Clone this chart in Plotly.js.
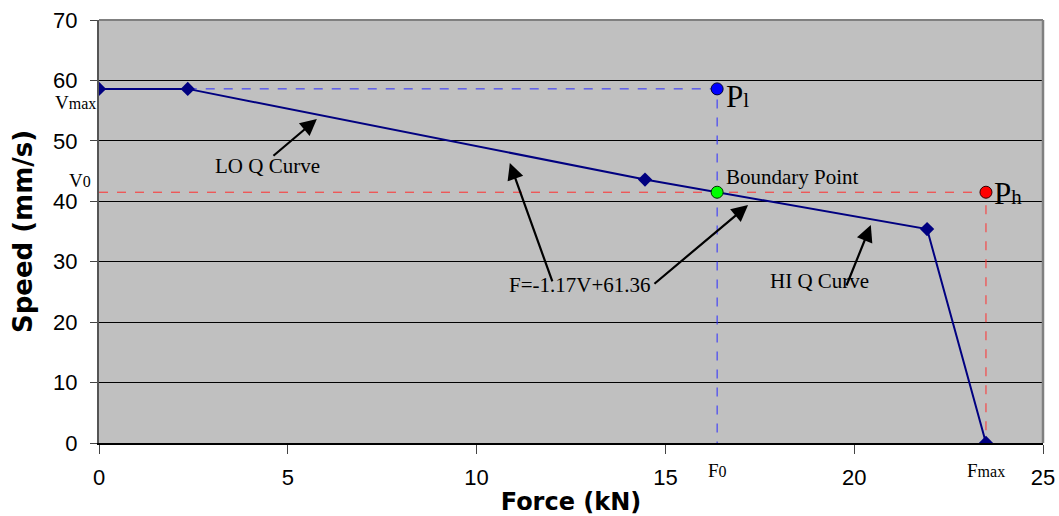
<!DOCTYPE html>
<html>
<head>
<meta charset="utf-8">
<script src="https://cdn.plot.ly/plotly-3.0.1.min.js"></script>
<style>
  html, body { margin: 0; padding: 0; background: #ffffff; }
  #chart { width: 1059px; height: 516px; }
</style>
</head>
<body>
<div id="chart"></div>
<script>
// ---- Data ----
const forceKN = [0, 2.35, 14.46, 21.93, 23.49];      // main curve, x (kN)
const speedMMs = [58.6, 58.6, 43.6, 35.4, 0];        // main curve, y (mm/s)

const boundaryF = [16.37];  const boundaryV = [41.5]; // Boundary point (F0, V0)
const pLowF = [16.37];      const pLowV = [58.6];     // P_l
const pHighF = [23.49];     const pHighV = [41.5];    // P_h

const blueGuideF = [2.35, 16.37, 16.37];
const blueGuideV = [58.6, 58.6, 0];
const redGuideF = [0, 23.49, 23.49];
const redGuideV = [41.5, 41.5, 0];

const xTickVals = [0, 5, 10, 15, 20, 25];
const yTickVals = [0, 10, 20, 30, 40, 50, 60, 70];

// label texts and anchor points (data units)
const labelTexts = ['LO Q Curve', 'HI Q Curve', 'F=-1.17V+61.36', 'Boundary Point'];
const labelF = [4.45, 19.07, 12.74, 16.55];
const labelV = [45.8, 26.8, 26.15, 44.0];

// arrows: head (F,V) and tail (F,V)
const arrowHeadF = [5.77, 10.88, 17.19, 20.44];
const arrowHeadV = [53.62, 46.33, 39.38, 36.07];
const arrowTailF = [4.58, 12.02, 14.67, 19.78];
const arrowTailV = [47.33, 26.48, 26.15, 25.81];

const serif = 'Liberation Serif, Times New Roman, serif';
const sans = 'Liberation Sans, Arial, sans-serif';

const traces = [
  { x: blueGuideF, y: blueGuideV, mode: 'lines', type: 'scatter',
    line: { color: '#2b2bff', width: 1, dash: 'dash' }, hoverinfo: 'skip' },
  { x: redGuideF, y: redGuideV, mode: 'lines', type: 'scatter',
    line: { color: '#ff3030', width: 1, dash: 'dash' }, hoverinfo: 'skip' },
  { x: forceKN, y: speedMMs, mode: 'lines+markers', type: 'scatter',
    line: { color: '#000080', width: 2 },
    marker: { symbol: 'diamond', size: 11, color: '#000080' } },
  { x: pLowF, y: pLowV, mode: 'markers', type: 'scatter',
    marker: { symbol: 'circle', size: 12, color: '#0000ff', line: { color: '#000033', width: 1 } } },
  { x: boundaryF, y: boundaryV, mode: 'markers', type: 'scatter',
    marker: { symbol: 'circle', size: 12, color: '#00ff00', line: { color: '#003300', width: 1 } } },
  { x: pHighF, y: pHighV, mode: 'markers', type: 'scatter',
    marker: { symbol: 'circle', size: 12, color: '#ff0000', line: { color: '#330000', width: 1 } } }
];

const annotations = [];
labelTexts.forEach((t, i) => {
  annotations.push({
    x: labelF[i], y: labelV[i], xref: 'x', yref: 'y', text: t, showarrow: false,
    xanchor: (t === 'Boundary Point') ? 'left' : 'center', yanchor: 'middle',
    font: { family: serif, size: 21, color: '#000' }
  });
});
arrowHeadF.forEach((hx, i) => {
  annotations.push({
    x: hx, y: arrowHeadV[i], ax: arrowTailF[i], ay: arrowTailV[i],
    xref: 'x', yref: 'y', axref: 'x', ayref: 'y', text: '',
    showarrow: true, arrowhead: 2, arrowsize: 1.5, arrowwidth: 2.2, arrowcolor: '#000',
    standoff: 0, startstandoff: 0
  });
});
// point / axis symbol labels
annotations.push(
  { x: pLowF[0], y: pLowV[0], xref: 'x', yref: 'y', xanchor: 'left', yanchor: 'middle',
    xshift: 7, yshift: -8, showarrow: false,
    text: 'P<span style="font-size:21px">l</span>', font: { family: serif, size: 31, color: '#000' } },
  { x: pHighF[0], y: pHighV[0], xref: 'x', yref: 'y', xanchor: 'left', yanchor: 'middle',
    xshift: 6, yshift: -1, showarrow: false,
    text: 'P<span style="font-size:21px">h</span>', font: { family: serif, size: 31, color: '#000' } },
  { x: 0, y: speedMMs[0], xref: 'x', yref: 'y', xanchor: 'right', yanchor: 'middle',
    xshift: -1, yshift: -14, showarrow: false,
    text: 'V<span style="font-size:16px">max</span>', font: { family: serif, size: 19, color: '#000' } },
  { x: 0, y: boundaryV[0], xref: 'x', yref: 'y', xanchor: 'right', yanchor: 'middle',
    xshift: -6, yshift: 12, showarrow: false,
    text: 'V<span style="font-size:16px">0</span>', font: { family: serif, size: 19, color: '#000' } },
  { x: boundaryF[0], y: 0, xref: 'x', yref: 'y', xanchor: 'center', yanchor: 'middle',
    yshift: -27, showarrow: false,
    text: 'F<span style="font-size:16px">0</span>', font: { family: serif, size: 19, color: '#000' } },
  { x: forceKN[4], y: 0, xref: 'x', yref: 'y', xanchor: 'center', yanchor: 'middle',
    yshift: -27, showarrow: false,
    text: 'F<span style="font-size:16px">max</span>', font: { family: serif, size: 19, color: '#000' } }
);

const layout = {
  width: 1059, height: 516,
  margin: { l: 99, r: 16, t: 20, b: 73, pad: 0 },
  paper_bgcolor: '#ffffff', plot_bgcolor: '#c0c0c0',
  showlegend: false,
  xaxis: {
    range: [0, 25], tickvals: xTickVals, ticks: 'outside', ticklen: 9, tickwidth: 1, tickcolor: '#444',
    showgrid: false, zeroline: false, showline: true, linecolor: '#000', linewidth: 1.5,
    tickfont: { family: sans, size: 22, color: '#000' }, ticklabelstandoff: 5,
    title: { text: 'Force (kN)', font: { family: 'DejaVu Sans, sans-serif', size: 24, color: '#000', weight: 'bold' }, standoff: 4 },
    fixedrange: true
  },
  yaxis: {
    range: [0, 70], tickvals: yTickVals, ticks: 'outside', ticklen: 7, tickwidth: 1, tickcolor: '#444',
    showgrid: true, gridcolor: '#000', gridwidth: 1, zeroline: false,
    showline: true, linecolor: '#555', linewidth: 2,
    tickfont: { family: sans, size: 22, color: '#000' }, ticklabelstandoff: 8,
    title: { text: 'Speed (mm/s)', font: { family: 'DejaVu Sans, sans-serif', size: 26, color: '#000', weight: 'bold' }, standoff: 13 },
    fixedrange: true
  },
  shapes: [
    { type: 'line', xref: 'paper', yref: 'paper', x0: 0, x1: 1, y0: 1, y1: 1, line: { color: '#808080', width: 2 } },
    { type: 'line', xref: 'paper', yref: 'paper', x0: 1, x1: 1, y0: 0, y1: 1, line: { color: '#808080', width: 2.5 } }
  ],
  annotations: annotations
};

Plotly.newPlot('chart', traces, layout, { staticPlot: true, displayModeBar: false });
</script>
</body>
</html>
